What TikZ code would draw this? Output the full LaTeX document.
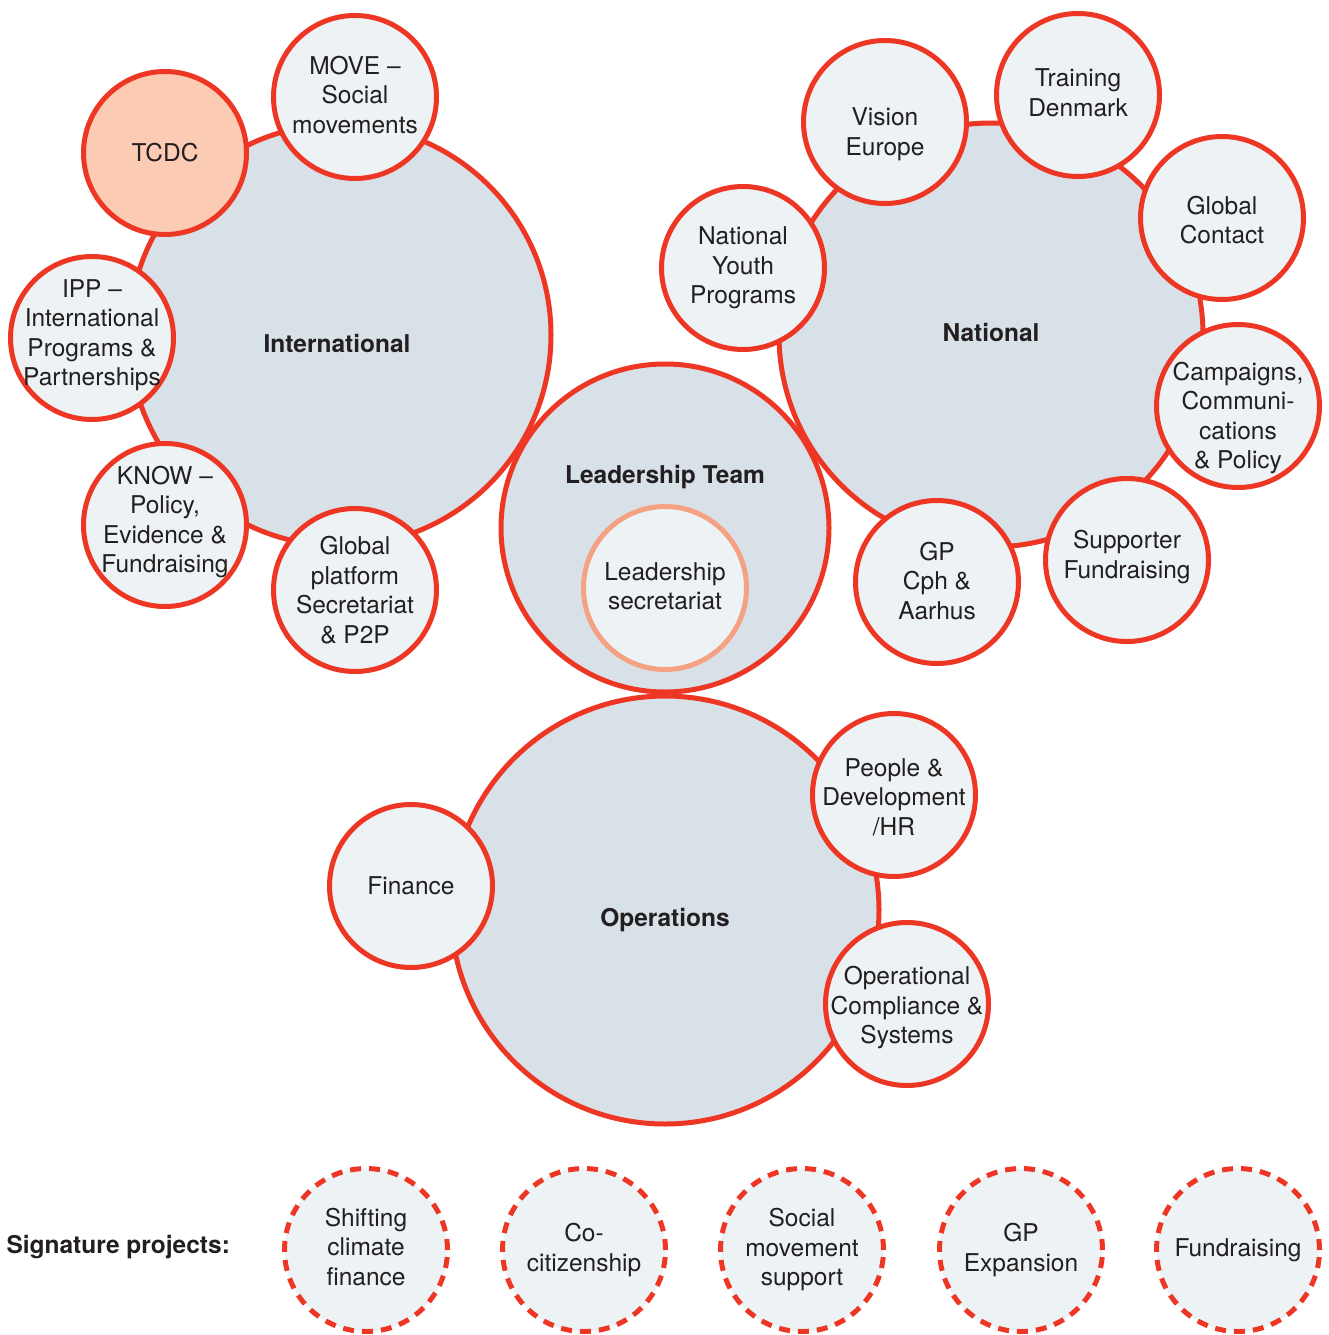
\documentclass[tikz,border=0pt]{standalone}
\usepackage{fontspec}
\setmainfont{TeX Gyre Heros}
\definecolor{ringred}{HTML}{EE3624}
\definecolor{bigfill}{HTML}{D7E1E7}
\definecolor{smallfill}{HTML}{EDF2F5}
\definecolor{tcdcfill}{HTML}{FBCBB4}
\definecolor{secline}{HTML}{F4A283}
\definecolor{ink}{HTML}{231F20}
\tikzset{
  ringline/.style={draw=ringred, line width=5pt},
  bigdisc/.style={circle, fill=bigfill, inner sep=0pt},
  bigtext/.style={text=ink, font=\fontsize{24.5}{29.5}\selectfont\bfseries},
  unittext/.style={text=ink, align=center, font=\fontsize{24.5}{29.5}\selectfont},
  % #1 = how far the text sits below the centre, #2 = the text
  unit/.style 2 args={circle, ringline, fill=smallfill, inner sep=0pt, minimum size=163pt,
    label={[unittext, yshift=-#1]center:{#2}}},
  project/.style 2 args={unit={#1}{#2}, dash pattern=on 11pt off 8pt}
}
\begin{document}
\begin{tikzpicture}[x=1pt,y=-1pt]
 \useasboundingbox (0,0) rectangle (1329,1335);
 % big circles, fills first so both outlines show where they cross
 \foreach \name/\x/\y/\r in {intl/340/335/211, natl/991/335/212, lead/665/528/164, ops/665/910/214}
   \node[bigdisc, minimum size=2*\r pt] (\name) at (\x,\y) {};
 \foreach \name/\r in {intl/211, natl/212, lead/164, ops/214}
   \draw[ringline] (\name.center) circle[radius=\r pt];
 \node[bigtext] (intl-t) at (337,343) {International};
 \node[bigtext] (natl-t) at (991,332) {National};
 \node[bigtext] (lead-t) at (665,477) {Leadership Team};
 \node[bigtext] (ops-t) at (665,920) {Operations};
 % international units
 \node[unit={0pt}{TCDC}, fill=tcdcfill] (tcdc) at (165,153) {};
 \node[unit={-2pt}{MOVE –\\Social\\movements}] (move) at (355,97) {};
 \node[unit={-3pt}{IPP –\\International\\Programs \&\\Partnerships}] (ipp) at (92,338) {};
 \node[unit={-3pt}{KNOW –\\Policy,\\Evidence \&\\Fundraising}] (know) at (165,525) {};
 \node[unit={0pt}{Global\\platform\\Secretariat\\\& P2P}] (gplat) at (355,590) {};
 % national units
 \node[unit={12pt}{Vision\\Europe}] (vision) at (885,122) {};
 \node[unit={-2pt}{Training\\Denmark}] (train) at (1078,95) {};
 \node[unit={2pt}{Global\\Contact}] (contact) at (1222,218) {};
 \node[unit={0pt}{National\\Youth\\Programs}] (youth) at (743,268) {};
 \node[unit={12pt}{Campaigns,\\Communi-\\cations\\\& Policy}] (camp) at (1238,406) {};
 \node[unit={-3pt}{Supporter\\Fundraising}] (supp) at (1127,560) {};
 \node[unit={-1pt}{GP\\Cph \&\\Aarhus}] (gpcph) at (937,582) {};
 % leadership
 \node[unit={-2pt}{Leadership\\secretariat}, draw=secline] (lsec) at (665,588) {};
 % operations units
 \node[unit={0pt}{Finance}] (fin) at (411,886) {};
 \node[unit={2pt}{People \&\\Development\\/HR}] (people) at (894,795) {};
 \node[unit={4pt}{Operational\\Compliance \&\\Systems}] (comp) at (907,1004) {};
 % signature projects
 \node[bigtext, anchor=west] (sig) at (3,1247) {Signature projects:};
 \node[project={-3pt}{Shifting\\climate\\finance}] (climate) at (366,1250) {};
 \node[project={0pt}{Co-\\citizenship}] (cocit) at (584,1250) {};
 \node[project={0pt}{Social\\movement\\support}] (social) at (802,1250) {};
 \node[project={0pt}{GP\\Expansion}] (gpexp) at (1021,1250) {};
 \node[project={0pt}{Fundraising}] (fund) at (1238,1250) {};
\end{tikzpicture}
\end{document}
